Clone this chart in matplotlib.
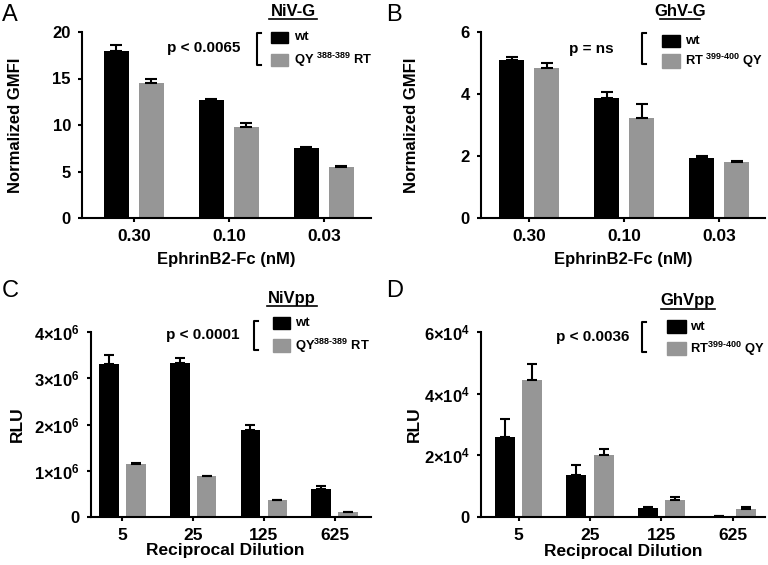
import numpy as np
import matplotlib
matplotlib.use("Agg")
import matplotlib.pyplot as plt
from matplotlib.patches import Rectangle
from matplotlib.lines import Line2D

plt.rcParams['font.family'] = ['Liberation Sans', 'DejaVu Sans']
plt.rcParams['font.weight'] = 'bold'
plt.rcParams['mathtext.fontset'] = 'custom'
plt.rcParams['mathtext.rm'] = 'Liberation Sans:bold'
plt.rcParams['mathtext.bf'] = 'Liberation Sans:bold'
plt.rcParams['mathtext.it'] = 'Liberation Sans:bold'

# data
doses = ['0.30', '0.10', '0.03']
niv_wt = [18.0, 12.7, 7.5]
niv_wt_err = [0.6, 0.05, 0.1]
niv_mut = [14.5, 9.8, 5.5]
niv_mut_err = [0.5, 0.4, 0.05]

ghv_wt = [5.1, 3.87, 1.95]
ghv_wt_err = [0.08, 0.2, 0.04]
ghv_mut = [4.84, 3.22, 1.8]
ghv_mut_err = [0.15, 0.45, 0.04]

dilutions = ['5', '25', '125', '625']
nivpp_wt = [3.31e6, 3.34e6, 1.89e6, 0.61e6]
nivpp_wt_err = [0.2e6, 0.09e6, 0.1e6, 0.05e6]
nivpp_mut = [1.15e6, 0.88e6, 0.36e6, 0.11e6]
nivpp_mut_err = [0.02e6, 0.01e6, 0.01e6, 0.005e6]

ghvpp_wt = [2.6e4, 1.35e4, 0.28e4, 0.03e4]
ghvpp_wt_err = [0.58e4, 0.35e4, 0.03e4, 0.01e4]
ghvpp_mut = [4.45e4, 2.0e4, 0.56e4, 0.26e4]
ghvpp_mut_err = [0.52e4, 0.2e4, 0.1e4, 0.05e4]

BLACK = '#000000'
GRAY = '#969696'

W, H = 768, 565
fig = plt.figure(figsize=(W/100, H/100), dpi=100)


def box(l, t, r, b):
    # pixel box -> figure fraction
    return [l/W, 1-b/H, (r-l)/W, (b-t)/H]


def fx(x):
    return x/W


def fy(y):
    return 1-y/H


def draw_panel(ax, labels, wt, wt_err, mut, mut_err, off, width, xlim, ylim, yticks, yticklabels, capsize):
    x = np.arange(len(labels))
    ax.bar(x-off, wt, width, color=BLACK, zorder=2)
    ax.bar(x+off, mut, width, color=GRAY, zorder=2)
    ax.errorbar(x-off, wt, yerr=[np.zeros(len(wt)), wt_err], fmt='none', ecolor='black',
                elinewidth=1.5, capsize=capsize, capthick=1.5, zorder=3)
    ax.errorbar(x+off, mut, yerr=[np.zeros(len(mut)), mut_err], fmt='none', ecolor='black',
                elinewidth=1.5, capsize=capsize, capthick=1.5, zorder=3)
    ax.set_xlim(*xlim)
    ax.set_ylim(*ylim)
    ax.set_xticks(x)
    ax.set_xticklabels(labels, fontsize=12.5, fontweight='bold')
    ax.set_yticks(yticks)
    ax.set_yticklabels(yticklabels, fontsize=12, fontweight='bold')
    for s in ['top', 'right']:
        ax.spines[s].set_visible(False)
    for s in ['left', 'bottom']:
        ax.spines[s].set_linewidth(1.5)
    ax.tick_params(axis='y', length=3, width=1.5, pad=5)
    ax.tick_params(axis='x', length=3, width=1.5, pad=5)


def legend_block(title, tx, ty, ul, sq_x, wt_y, mut_y, txt_x, mut_label, br_x, br_y0, br_y1, ptxt, p_right, p_y):
    fig.text(fx(tx), fy(ty), title, ha='center', va='center', fontsize=12, fontweight='bold')
    fig.add_artist(Line2D([fx(ul[0]), fx(ul[1])], [fy(ul[2]), fy(ul[2])], color='black', lw=1.2))
    for (y0, y1), c in zip([wt_y, mut_y], [BLACK, GRAY]):
        fig.add_artist(Rectangle((fx(sq_x[0]), fy(y1)), (sq_x[1]-sq_x[0])/W, (y1-y0)/H,
                                 transform=fig.transFigure, color=c))
    fig.text(fx(txt_x), fy((wt_y[0]+wt_y[1])/2), 'wt', ha='left', va='center', fontsize=9.5, fontweight='bold')
    fig.text(fx(txt_x), fy((mut_y[0]+mut_y[1])/2), mut_label, ha='left', va='center', fontsize=9.3, fontweight='bold')
    fig.add_artist(Line2D([fx(br_x+4), fx(br_x), fx(br_x), fx(br_x+4)],
                          [fy(br_y0), fy(br_y0), fy(br_y1), fy(br_y1)], color='black', lw=1.5))
    fig.text(fx(p_right), fy(p_y), ptxt, ha='right', va='center', fontsize=11, fontweight='bold')


# panel A
axA = fig.add_axes(box(82, 32, 371, 218))
draw_panel(axA, doses, niv_wt, niv_wt_err, niv_mut, niv_mut_err, 0.184, 0.263, (-0.547, 2.495),
           (0, 20), [0, 5, 10, 15, 20], ['0', '5', '10', '15', '20'], 4.5)
axA.set_ylabel('Normalized GMFI', fontsize=12, fontweight='bold')
axA.yaxis.set_label_coords(-0.204, 0.5)
axA.set_xlabel('EphrinB2-Fc (nM)', fontsize=12, fontweight='bold')
axA.xaxis.set_label_coords(0.5, -0.183)
legend_block('NiV-G', 293, 11, (269, 317, 19), (271, 288), (32, 43), (54, 66), 294,
             r'QY $^{388\text{-}389}$ RT', 257, 33, 65, 'p < 0.0065', 240, 48)

# panel B
axB = fig.add_axes(box(481, 32, 765, 218))
draw_panel(axB, doses, ghv_wt, ghv_wt_err, ghv_mut, ghv_mut_err, 0.184, 0.263, (-0.506, 2.48),
           (0, 6), [0, 2, 4, 6], ['0', '2', '4', '6'], 4.5)
axB.set_ylabel('Normalized GMFI', fontsize=12, fontweight='bold')
axB.yaxis.set_label_coords(-0.218, 0.5)
axB.set_xlabel('EphrinB2-Fc (nM)', fontsize=12, fontweight='bold')
axB.xaxis.set_label_coords(0.5, -0.183)
legend_block('GhV-G', 680, 11, (660, 700, 19), (662, 680), (35, 47), (54, 68), 685,
             r'RT $^{399\text{-}400}$ QY', 642, 33, 64, 'p = ns', 614, 49)

# panel C
axC = fig.add_axes(box(91, 332, 371, 517))
draw_panel(axC, dilutions, nivpp_wt, nivpp_wt_err, nivpp_mut, nivpp_mut_err, 0.19, 0.28, (-0.44, 3.51),
           (0, 4e6), [0, 1e6, 2e6, 3e6, 4e6],
           ['0', r'1×10$^{6}$', r'2×10$^{6}$', r'3×10$^{6}$', r'4×10$^{6}$'], 3.6)
axC.set_ylabel('RLU', fontsize=12.5, fontweight='bold')
axC.yaxis.set_label_coords(-0.235, 0.5)
axC.set_xlabel('Reciprocal Dilution', fontsize=12.5, fontweight='bold')
axC.xaxis.set_label_coords(0.48, -0.14)
legend_block('NiVpp', 292, 299, (267, 317, 306), (273, 290), (317, 329), (339, 352), 295,
             r'QY$^{388\text{-}389}$ RT', 254, 321, 350, 'p < 0.0001', 239, 335)

# panel D
axD = fig.add_axes(box(481, 332, 765, 517))
draw_panel(axD, dilutions, ghvpp_wt, ghvpp_wt_err, ghvpp_mut, ghvpp_mut_err, 0.19, 0.28, (-0.526, 3.45),
           (0, 6e4), [0, 2e4, 4e4, 6e4],
           ['0', r'2×10$^{4}$', r'4×10$^{4}$', r'6×10$^{4}$'], 3.6)
axD.set_ylabel('RLU', fontsize=12.5, fontweight='bold')
axD.yaxis.set_label_coords(-0.208, 0.5)
axD.set_xlabel('Reciprocal Dilution', fontsize=12.5, fontweight='bold')
axD.xaxis.set_label_coords(0.5, -0.145)
legend_block('GhVpp', 688, 301, (661, 715, 309), (667, 686), (320, 333), (342, 355), 690,
             r'RT$^{399\text{-}400}$ QY', 642, 322, 352, 'p < 0.0036', 629, 337)

# panel letters
for letter, px, py in [('A', 2, 4), ('B', 386, 4), ('C', 2, 280), ('D', 386, 280)]:
    fig.text(fx(px), fy(py), letter, ha='left', va='top', fontsize=17, fontweight='normal')

fig.savefig('out.png', dpi=100)
